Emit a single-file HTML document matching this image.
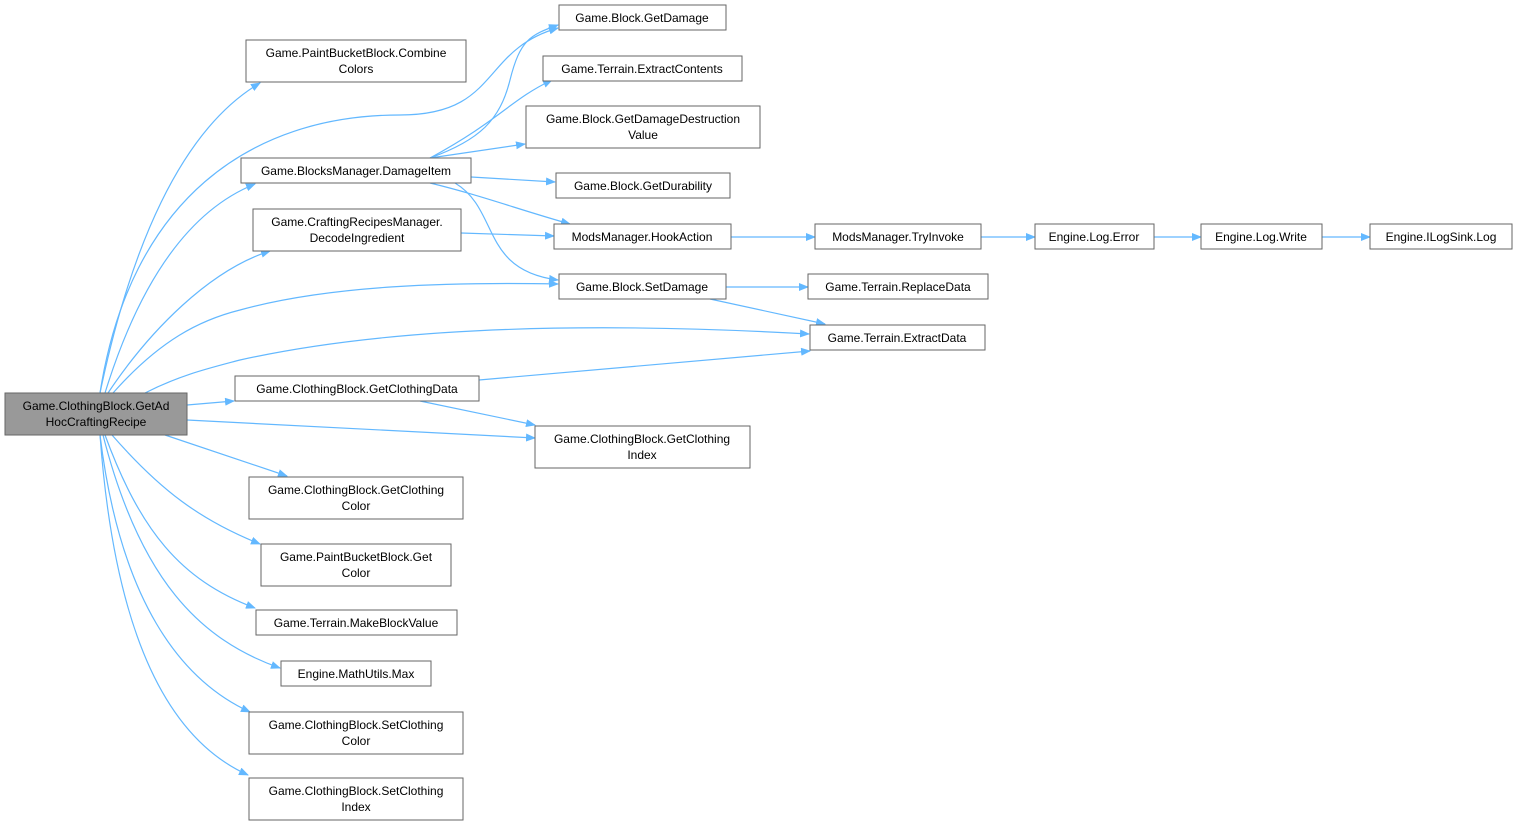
<!DOCTYPE html>
<html><head><meta charset="utf-8"><style>
html,body{margin:0;padding:0;background:#fff;}
svg text{font-family:"Liberation Sans",sans-serif;font-size:12px;fill:#000;text-anchor:middle;}
</style></head><body>
<svg width="1517" height="827" viewBox="0 0 1517 827" xmlns="http://www.w3.org/2000/svg">
<defs><marker id="a" markerWidth="10" markerHeight="8" refX="9" refY="4" orient="auto" markerUnits="userSpaceOnUse"><path d="M0,0 L10,4 L0,8 z" fill="#63b8ff"/></marker></defs>
<g fill="none" stroke="#63b8ff" stroke-width="1.2" marker-end="url(#a)">
<path d="M100,393 C130,250 180,130 260,83"/>
<path d="M100,393 C130,200 250,115 400,115 C500,115 480,50 558,28"/>
<path d="M105,393 C140,280 190,210 255,184"/>
<path d="M108,393 C150,330 210,270 270,251"/>
<path d="M113,393 C160,340 200,320 240,310 C330,285 450,282 558,284"/>
<path d="M145,393 C180,375 210,368 240,360 C420,320 650,325 809,334"/>
<path d="M187,405 L234,401"/>
<path d="M187,420 L535,438"/>
<path d="M165,435 L287,476"/>
<path d="M112,435 C160,490 200,520 260,544"/>
<path d="M105,435 C140,530 180,580 255,608"/>
<path d="M103,435 C140,580 200,640 280,668"/>
<path d="M100,435 C120,600 180,680 250,712"/>
<path d="M100,435 C115,640 170,740 248,775"/>
<path d="M430,158 C480,140 500,120 510,80 C520,40 530,35 558,25"/>
<path d="M430,158 C500,120 510,100 552,80"/>
<path d="M430,158 L525,144"/>
<path d="M471,177 L555,182"/>
<path d="M430,183 C480,195 520,210 570,224"/>
<path d="M455,183 C500,210 480,270 558,280"/>
<path d="M461,233 L554,236"/>
<path d="M731,237 L815,237"/>
<path d="M981,237 L1035,237"/>
<path d="M1154,237 L1201,237"/>
<path d="M1322,237 L1370,237"/>
<path d="M726,287 L808,287"/>
<path d="M710,299 L825,324"/>
<path d="M479,380 L810,351"/>
<path d="M420,401 L535,425"/>
</g>
<g fill="#fff" stroke="#666" stroke-width="1">
<rect x="5" y="393" width="182" height="42" fill="#999"/>
<rect x="246" y="40" width="220" height="42"/>
<rect x="241" y="158" width="230" height="25"/>
<rect x="253" y="209" width="208" height="42"/>
<rect x="235" y="376" width="244" height="25"/>
<rect x="249" y="477" width="214" height="42"/>
<rect x="261" y="544" width="190" height="42"/>
<rect x="256" y="610" width="201" height="25"/>
<rect x="281" y="661" width="150" height="25"/>
<rect x="249" y="712" width="214" height="42"/>
<rect x="249" y="778" width="214" height="42"/>
<rect x="559" y="5" width="167" height="25"/>
<rect x="543" y="56" width="199" height="25"/>
<rect x="526" y="106" width="234" height="42"/>
<rect x="556" y="173" width="174" height="25"/>
<rect x="554" y="224" width="177" height="25"/>
<rect x="559" y="274" width="167" height="25"/>
<rect x="535" y="426" width="215" height="42"/>
<rect x="815" y="224" width="166" height="25"/>
<rect x="808" y="274" width="180" height="25"/>
<rect x="810" y="325" width="175" height="25"/>
<rect x="1035" y="224" width="119" height="25"/>
<rect x="1201" y="224" width="121" height="25"/>
<rect x="1370" y="224" width="142" height="25"/>
</g>
<text x="96" y="410">Game.ClothingBlock.GetAd</text><text x="96" y="426">HocCraftingRecipe</text>
<text x="356" y="57">Game.PaintBucketBlock.Combine</text><text x="356" y="73">Colors</text>
<text x="356" y="175">Game.BlocksManager.DamageItem</text>
<text x="357" y="226">Game.CraftingRecipesManager.</text><text x="357" y="242">DecodeIngredient</text>
<text x="357" y="393">Game.ClothingBlock.GetClothingData</text>
<text x="356" y="494">Game.ClothingBlock.GetClothing</text><text x="356" y="510">Color</text>
<text x="356" y="561">Game.PaintBucketBlock.Get</text><text x="356" y="577">Color</text>
<text x="356" y="627">Game.Terrain.MakeBlockValue</text>
<text x="356" y="678">Engine.MathUtils.Max</text>
<text x="356" y="729">Game.ClothingBlock.SetClothing</text><text x="356" y="745">Color</text>
<text x="356" y="795">Game.ClothingBlock.SetClothing</text><text x="356" y="811">Index</text>
<text x="642" y="22">Game.Block.GetDamage</text>
<text x="642" y="73">Game.Terrain.ExtractContents</text>
<text x="643" y="123">Game.Block.GetDamageDestruction</text><text x="643" y="139">Value</text>
<text x="643" y="190">Game.Block.GetDurability</text>
<text x="642" y="241">ModsManager.HookAction</text>
<text x="642" y="291">Game.Block.SetDamage</text>
<text x="642" y="443">Game.ClothingBlock.GetClothing</text><text x="642" y="459">Index</text>
<text x="898" y="241">ModsManager.TryInvoke</text>
<text x="898" y="291">Game.Terrain.ReplaceData</text>
<text x="897" y="342">Game.Terrain.ExtractData</text>
<text x="1094" y="241">Engine.Log.Error</text>
<text x="1261" y="241">Engine.Log.Write</text>
<text x="1441" y="241">Engine.ILogSink.Log</text>
</svg>
</body></html>
